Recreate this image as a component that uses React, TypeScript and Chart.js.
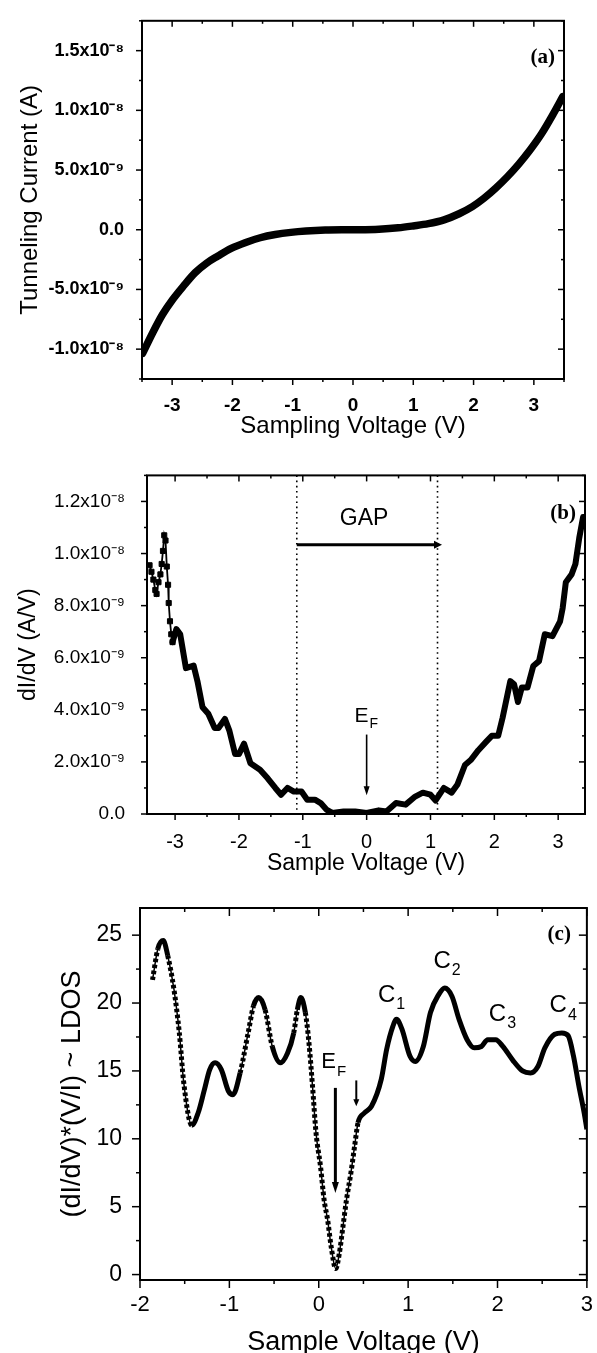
import React, { useEffect, useRef } from 'react';
import { Chart, registerables } from 'chart.js';

Chart.register(...registerables);

// ---------- Panel (a): I-V curve ----------
const aVoltage = [-3.49, -3.32, -3.16, -3.0, -2.81, -2.62, -2.43, -2.24, -2.02, -1.79, -1.54, -1.29, -1.03, -0.78, -0.46, 0, 0.43, 0.75, 1.0, 1.25, 1.51, 1.76, 1.98, 2.17, 2.37, 2.56, 2.75, 2.94, 3.13, 3.32, 3.48];
const aCurrent = [-1.035e-8, -8.6e-9, -7.1e-9, -5.9e-9, -4.7e-9, -3.6e-9, -2.8e-9, -2.2e-9, -1.56e-9, -1.08e-9, -6.7e-10, -4.0e-10, -2.2e-10, -1.1e-10, -3e-11, 0, 5e-11, 1.6e-10, 3.2e-10, 5.1e-10, 8.3e-10, 1.34e-9, 1.94e-9, 2.63e-9, 3.5e-9, 4.44e-9, 5.5e-9, 6.7e-9, 8.06e-9, 9.68e-9, 1.115e-8];
const aXTicks = [-3, -2, -1, 0, 1, 2, 3];
const aXTickLabels = ['-3', '-2', '-1', '0', '1', '2', '3'];
const aYTicks = [-1e-8, -5e-9, 0, 5e-9, 1e-8, 1.5e-8];
const aYTickLabels = ['-1.0x10⁻⁸', '-5.0x10⁻⁹', '0.0', '5.0x10⁻⁹', '1.0x10⁻⁸', '1.5x10⁻⁸'];

// ---------- Panel (b): dI/dV ----------
const bLeftVoltage = [-3.40, -3.37, -3.34, -3.31, -3.29, -3.26, -3.23, -3.21, -3.19, -3.17, -3.15, -3.13, -3.11, -3.10, -3.08, -3.06, -3.04];
const bLeftDidv = [9.55e-9, 9.3e-9, 9.0e-9, 8.6e-9, 8.45e-9, 8.9e-9, 9.2e-9, 9.6e-9, 10.1e-9, 10.7e-9, 10.5e-9, 9.5e-9, 8.8e-9, 8.1e-9, 7.4e-9, 6.9e-9, 6.6e-9];
const bVoltage = [-3.04, -2.98, -2.92, -2.83, -2.71, -2.65, -2.57, -2.48, -2.38, -2.32, -2.22, -2.15, -2.06, -2.0, -1.92, -1.82, -1.67, -1.55, -1.43, -1.34, -1.24, -1.14, -1.02, -0.93, -0.81, -0.72, -0.63, -0.54, -0.36, -0.18, 0, 0.19, 0.31, 0.46, 0.61, 0.76, 0.88, 1.0, 1.08, 1.21, 1.33, 1.42, 1.54, 1.63, 1.75, 1.87, 1.96, 2.06, 2.13, 2.25, 2.31, 2.37, 2.43, 2.52, 2.61, 2.70, 2.79, 2.91, 3.03, 3.07, 3.12, 3.21, 3.27, 3.33, 3.39];
const bDidv = [6.6e-9, 7.1e-9, 6.9e-9, 5.6e-9, 5.7e-9, 5.1e-9, 4.1e-9, 3.85e-9, 3.3e-9, 3.3e-9, 3.65e-9, 3.2e-9, 2.3e-9, 2.3e-9, 2.7e-9, 1.95e-9, 1.7e-9, 1.37e-9, 1.0e-9, 0.74e-9, 1.0e-9, 0.86e-9, 0.86e-9, 0.55e-9, 0.55e-9, 0.42e-9, 0.17e-9, 0.04e-9, 0.1e-9, 0.1e-9, 0.04e-9, 0.14e-9, 0.1e-9, 0.42e-9, 0.36e-9, 0.67e-9, 0.82e-9, 0.74e-9, 0.52e-9, 1.0e-9, 0.82e-9, 1.12e-9, 1.88e-9, 2.07e-9, 2.45e-9, 2.77e-9, 3.0e-9, 3.0e-9, 3.7e-9, 5.1e-9, 4.98e-9, 4.3e-9, 4.86e-9, 4.86e-9, 5.68e-9, 5.87e-9, 6.9e-9, 6.83e-9, 7.4e-9, 7.9e-9, 8.9e-9, 9.2e-9, 9.6e-9, 10.6e-9, 11.4e-9];
const bXTicks = [-3, -2, -1, 0, 1, 2, 3];
const bXTickLabels = ['-3', '-2', '-1', '0', '1', '2', '3'];
const bYTicks = [0, 2e-9, 4e-9, 6e-9, 8e-9, 1e-8, 1.2e-8];
const bYTickLabels = ['0.0', '2.0x10⁻⁹', '4.0x10⁻⁹', '6.0x10⁻⁹', '8.0x10⁻⁹', '1.0x10⁻⁸', '1.2x10⁻⁸'];
const bGapStart = -1.094;
const bGapEnd = 1.11;
const bGapArrowY = 1.034e-8;
const bGapArrowTip = 1.18;

// ---------- Panel (c): normalized conductance ----------
const cVoltage = [-1.86, -1.80, -1.74, -1.69, -1.62, -1.56, -1.51, -1.42, -1.35, -1.28, -1.22, -1.16, -1.09, -1.01, -0.96, -0.88, -0.79, -0.73, -0.67, -0.60, -0.52, -0.43, -0.35, -0.28, -0.24, -0.20, -0.15, -0.11, -0.07, -0.03, 0.02, 0.06, 0.10, 0.14, 0.19, 0.23, 0.27, 0.31, 0.36, 0.40, 0.44, 0.51, 0.59, 0.70, 0.76, 0.83, 0.87, 0.93, 1.02, 1.08, 1.17, 1.25, 1.34, 1.41, 1.49, 1.57, 1.66, 1.74, 1.82, 1.89, 1.98, 2.06, 2.17, 2.28, 2.37, 2.45, 2.53, 2.64, 2.72, 2.79, 2.85, 2.91, 2.97, 3.0];
const cLdos = [21.7, 24.0, 24.6, 23.5, 21.0, 17.8, 14.1, 11.0, 11.9, 13.6, 15.1, 15.6, 15.1, 13.5, 13.25, 14.85, 17.8, 19.8, 20.4, 19.5, 16.8, 15.6, 16.3, 17.8, 19.5, 20.4, 19.3, 17.1, 13.9, 10.4, 7.95, 5.5, 4.0, 2.0, 0.44, 1.55, 3.5, 5.5, 7.5, 9.4, 11.2, 11.9, 12.4, 14.4, 16.6, 18.3, 18.8, 18.1, 16.1, 15.7, 16.8, 19.3, 20.6, 21.1, 20.5, 18.8, 17.3, 16.7, 16.8, 17.3, 17.3, 16.8, 15.8, 15.0, 14.85, 15.3, 16.7, 17.7, 17.8, 17.6, 16.1, 13.9, 11.9, 10.7];
const cXTicks = [-2, -1, 0, 1, 2, 3];
const cXTickLabels = ['-2', '-1', '0', '1', '2', '3'];
const cYTicks = [0, 5, 10, 15, 20, 25];
const cYTickLabels = ['0', '5', '10', '15', '20', '25'];
const cPeakNames = ['1', '2', '3', '4'];
const cPeakLabelX = [0.76, 1.38, 2.0, 2.68];
const cPeakLabelY = [20.6, 23.1, 19.2, 19.8];
const cMarkerRegionEnd = 0.45;

const SANS = '"Liberation Sans", Arial, Helvetica, sans-serif';
const SERIF = '"Liberation Serif", "Times New Roman", serif';

function minorTicks(majors: number[], min: number, max: number): number[] {
  const step = (majors[1] - majors[0]) / 2;
  const out: number[] = [];
  const k0 = Math.ceil((min - majors[0]) / step - 1e-6);
  const k1 = Math.floor((max - majors[0]) / step + 1e-6);
  for (let k = k0; k <= k1; k++) {
    if (k % 2 !== 0) out.push(majors[0] + k * step);
  }
  return out;
}

function pts(xs: number[], ys: number[]) {
  return xs.map((x, i) => ({ x, y: ys[i] }));
}

interface AxisCfg {
  min: number; max: number; ticks: number[]; labels: string[];
  tickFont: any; tickPad: number; size: number;
  title: string; titleFont: any; titlePad: any;
}

function xAxis(c: AxisCfg) {
  return {
    type: 'linear', position: 'bottom', min: c.min, max: c.max,
    afterBuildTicks: (s: any) => { s.ticks = c.ticks.map((v) => ({ value: v })); },
    afterFit: (s: any) => { s.height = c.size; },
    grid: { display: false }, border: { display: false },
    ticks: { color: '#000', font: c.tickFont, padding: c.tickPad, maxRotation: 0, autoSkip: false,
      callback: (_v: any, i: number) => c.labels[i] },
    title: { display: true, text: c.title, color: '#000', font: c.titleFont, padding: c.titlePad },
  };
}
function yAxis(c: AxisCfg) {
  return {
    type: 'linear', position: 'left', min: c.min, max: c.max,
    afterBuildTicks: (s: any) => { s.ticks = c.ticks.map((v) => ({ value: v })); },
    afterFit: (s: any) => { s.width = c.size; },
    grid: { display: false }, border: { display: false },
    ticks: { color: '#000', font: c.tickFont, padding: c.tickPad, autoSkip: false,
      callback: (_v: any, i: number) => c.labels[i] },
    title: { display: true, text: c.title, color: '#000', font: c.titleFont, padding: c.titlePad },
  };
}

function framePlugin(o: { xMajor: number[]; yMajor: number[]; major: number; minor: number; frame: number }) {
  return {
    id: 'frameTicks',
    afterDraw(chart: any) {
      const { ctx, chartArea } = chart;
      const { left, right, top, bottom } = chartArea;
      const xs = chart.scales.x, ys = chart.scales.y;
      ctx.save();
      ctx.strokeStyle = '#000';
      ctx.lineWidth = o.frame;
      ctx.strokeRect(left, top, right - left, bottom - top);
      ctx.lineWidth = 1.5;
      const seg = (x1: number, y1: number, x2: number, y2: number) => {
        ctx.beginPath(); ctx.moveTo(x1, y1); ctx.lineTo(x2, y2); ctx.stroke();
      };
      const xMinor = minorTicks(o.xMajor, xs.min, xs.max);
      const yMinor = minorTicks(o.yMajor, ys.min, ys.max);
      o.xMajor.forEach((v) => { const p = xs.getPixelForValue(v); seg(p, bottom, p, bottom + o.major); seg(p, top, p, top + o.major); });
      xMinor.forEach((v) => { const p = xs.getPixelForValue(v); seg(p, bottom, p, bottom + o.minor); seg(p, top, p, top + o.minor); });
      o.yMajor.forEach((v) => { const p = ys.getPixelForValue(v); seg(left - o.major, p, left, p); seg(right - o.major, p, right, p); });
      yMinor.forEach((v) => { const p = ys.getPixelForValue(v); seg(left - o.minor, p, left, p); seg(right - o.minor, p, right, p); });
      ctx.restore();
    },
  };
}

function arrowDown(ctx: any, x: number, y1: number, y2: number, w: number, headL: number, headW: number) {
  ctx.lineWidth = w;
  ctx.beginPath(); ctx.moveTo(x, y1); ctx.lineTo(x, y2 - headL + 1); ctx.stroke();
  ctx.beginPath(); ctx.moveTo(x, y2); ctx.lineTo(x - headW, y2 - headL); ctx.lineTo(x + headW, y2 - headL); ctx.closePath(); ctx.fill();
}

function subText(ctx: any, main: string, sub: string, x: number, y: number, mainSize: number, subSize: number, subDy: number) {
  ctx.font = `${mainSize}px ${SANS}`;
  ctx.textAlign = 'center'; ctx.textBaseline = 'middle';
  ctx.fillText(main, x, y);
  const w = ctx.measureText(main).width;
  ctx.font = `${subSize}px ${SANS}`;
  ctx.textAlign = 'left';
  ctx.fillText(sub, x + w / 2 + 1, y + subDy);
}

function panelLabel(text: string, dx: number, dy: number) {
  return {
    id: 'panelLabel',
    afterDraw(chart: any) {
      const { ctx, chartArea } = chart;
      ctx.save();
      ctx.fillStyle = '#000';
      ctx.font = `bold 21px ${SERIF}`;
      ctx.textAlign = 'right'; ctx.textBaseline = 'middle';
      ctx.fillText(text, chartArea.right - dx, chartArea.top + dy);
      ctx.restore();
    },
  };
}

const baseOptions = (padding: any) => ({
  animation: false, responsive: false, events: [],
  layout: { padding },
  plugins: { legend: { display: false }, tooltip: { enabled: false } },
});

function configA() {
  return {
    type: 'scatter',
    data: { datasets: [{ data: pts(aVoltage, aCurrent), showLine: true, borderColor: '#000', borderWidth: 7.5, pointRadius: 0, cubicInterpolationMode: 'monotone', borderCapStyle: 'round', clip: 0 }] },
    options: {
      ...baseOptions({ left: 0, right: 33, top: 7, bottom: 0 }),
      scales: {
        x: xAxis({ min: -3.5, max: 3.5, ticks: aXTicks, labels: aXTickLabels, tickFont: { family: SANS, size: 19, weight: 'bold' }, tickPad: 7, size: 71, title: 'Sampling Voltage (V)', titleFont: { family: SANS, size: 24 }, titlePad: { top: 0, bottom: 9 } }),
        y: yAxis({ min: -1.25e-8, max: 1.75e-8, ticks: aYTicks, labels: aYTickLabels, tickFont: { family: SANS, size: 18, weight: 'bold' }, tickPad: 10, size: 142, title: 'Tunneling Current (A)', titleFont: { family: SANS, size: 24 }, titlePad: { top: 16, bottom: 0 } }),
      },
    },
    plugins: [framePlugin({ xMajor: aXTicks, yMajor: aYTicks, major: 6, minor: 3, frame: 2 }), panelLabel('(a)', 9, 37)],
  };
}

function configB() {
  const annot = {
    id: 'gapAnnot',
    afterDraw(chart: any) {
      const { ctx, chartArea } = chart;
      const xs = chart.scales.x, ys = chart.scales.y;
      ctx.save();
      ctx.strokeStyle = '#000'; ctx.fillStyle = '#000';
      ctx.lineWidth = 1.6; ctx.setLineDash([1.6, 3.6]);
      [bGapStart, bGapEnd].forEach((v) => {
        const p = xs.getPixelForValue(v);
        ctx.beginPath(); ctx.moveTo(p, chartArea.top); ctx.lineTo(p, chartArea.bottom); ctx.stroke();
      });
      ctx.setLineDash([]);
      const ay = ys.getPixelForValue(bGapArrowY);
      const x1 = xs.getPixelForValue(bGapStart), x2 = xs.getPixelForValue(bGapArrowTip);
      ctx.lineWidth = 3;
      ctx.beginPath(); ctx.moveTo(x1, ay); ctx.lineTo(x2 - 6, ay); ctx.stroke();
      ctx.beginPath(); ctx.moveTo(x2, ay); ctx.lineTo(x2 - 8, ay - 4); ctx.lineTo(x2 - 8, ay + 4); ctx.closePath(); ctx.fill();
      ctx.font = `23px ${SANS}`; ctx.textAlign = 'center'; ctx.textBaseline = 'middle';
      ctx.fillText('GAP', xs.getPixelForValue(-0.04), ys.getPixelForValue(1.133e-8));
      subText(ctx, 'E', 'F', xs.getPixelForValue(-0.08), ys.getPixelForValue(3.75e-9), 21, 14, 8);
      arrowDown(ctx, xs.getPixelForValue(0), ys.getPixelForValue(3.05e-9), ys.getPixelForValue(0.72e-9), 1.6, 9, 3);
      ctx.restore();
    },
  };
  return {
    type: 'scatter',
    data: {
      datasets: [
        { data: pts(bVoltage, bDidv), showLine: true, borderColor: '#000', borderWidth: 6, pointRadius: 0, tension: 0, borderJoinStyle: 'round', borderCapStyle: 'round', clip: 0 },
        { data: pts(bLeftVoltage, bLeftDidv), showLine: true, borderColor: '#000', backgroundColor: '#000', borderWidth: 1.8, pointRadius: 3.6, pointStyle: 'rect', pointBorderWidth: 1, tension: 0, clip: 0 },
      ],
    },
    options: {
      ...baseOptions({ left: 0, right: 12, top: 22, bottom: 0 }),
      scales: {
        x: xAxis({ min: -3.44, max: 3.42, ticks: bXTicks, labels: bXTickLabels, tickFont: { family: SANS, size: 20 }, tickPad: 8, size: 66, title: 'Sample Voltage (V)', titleFont: { family: SANS, size: 23 }, titlePad: { top: 0, bottom: 3 } }),
        y: yAxis({ min: 0, max: 1.3e-8, ticks: bYTicks, labels: bYTickLabels, tickFont: { family: SANS, size: 19 }, tickPad: 14, size: 147, title: 'dI/dV (A/V)', titleFont: { family: SANS, size: 23 }, titlePad: { top: 15, bottom: 0 } }),
      },
    },
    plugins: [framePlugin({ xMajor: bXTicks, yMajor: bYTicks, major: 6, minor: 3, frame: 2 }), annot, panelLabel('(b)', 9, 38)],
  };
}

function configC() {
  const dotted = (ctx: any) => {
    if (cVoltage[ctx.p1DataIndex] > cMarkerRegionEnd) return undefined;
    const dx = Math.abs(ctx.p1.x - ctx.p0.x) || 0.001;
    return Math.abs(ctx.p1.y - ctx.p0.y) / dx > 4 ? [3.5, 2.5] : undefined;
  };
  const annot = {
    id: 'ldosAnnot',
    afterDraw(chart: any) {
      const { ctx } = chart;
      const xs = chart.scales.x, ys = chart.scales.y;
      ctx.save();
      ctx.strokeStyle = '#000'; ctx.fillStyle = '#000';
      subText(ctx, 'E', 'F', xs.getPixelForValue(0.11), ys.getPixelForValue(15.67), 22, 15, 10);
      arrowDown(ctx, xs.getPixelForValue(0.186), ys.getPixelForValue(13.75), ys.getPixelForValue(6.0), 3, 11, 3.5);
      arrowDown(ctx, xs.getPixelForValue(0.42), ys.getPixelForValue(14.3), ys.getPixelForValue(12.4), 2, 7, 3);
      cPeakNames.forEach((n, i) => {
        subText(ctx, 'C', n, xs.getPixelForValue(cPeakLabelX[i]), ys.getPixelForValue(cPeakLabelY[i]), 24, 16, 10);
      });
      ctx.restore();
    },
  };
  return {
    type: 'scatter',
    data: {
      datasets: [
        { data: pts(cVoltage, cLdos), showLine: true, borderColor: '#000', borderWidth: 1.5, pointRadius: 0, cubicInterpolationMode: 'monotone', clip: 0 },
        { data: pts(cVoltage, cLdos), showLine: true, borderColor: '#000', borderWidth: 5, pointRadius: 0, cubicInterpolationMode: 'monotone', borderJoinStyle: 'round', clip: 0, segment: { borderDash: dotted } },
      ],
    },
    options: {
      ...baseOptions({ left: 0, right: 7, top: 28, bottom: 0 }),
      scales: {
        x: xAxis({ min: -2, max: 3, ticks: cXTicks, labels: cXTickLabels, tickFont: { family: SANS, size: 22 }, tickPad: 4, size: 73, title: 'Sample Voltage (V)', titleFont: { family: SANS, size: 27, lineHeight: 0.8 }, titlePad: { top: 0, bottom: 0 } }),
        y: yAxis({ min: -0.4, max: 27, ticks: cYTicks, labels: cYTickLabels, tickFont: { family: SANS, size: 23 }, tickPad: 10, size: 140, title: '(dI/dV)*(V/I) ~ LDOS', titleFont: { family: SANS, size: 27 }, titlePad: { top: 56, bottom: 0 } }),
      },
    },
    plugins: [framePlugin({ xMajor: cXTicks, yMajor: cYTicks, major: 8, minor: 4, frame: 2 }), annot, panelLabel('(c)', 16, 27)],
  };
}

function Panel({ top, height, build }: { top: number; height: number; build: () => any }) {
  const ref = useRef<HTMLCanvasElement | null>(null);
  useEffect(() => {
    if (!ref.current) return;
    const chart = new Chart(ref.current, build());
    return () => chart.destroy();
  }, []);
  return (
    <canvas ref={ref} width={597} height={height}
      style={{ position: 'absolute', left: 0, top, width: 597, height, display: 'block' }} />
  );
}

export default function App() {
  return (
    <div style={{ position: 'fixed', left: 0, top: 0, width: 597, height: 1353, overflow: 'hidden', background: '#fff' }}>
      <Panel top={0} height={450} build={configA} />
      <Panel top={450} height={430} build={configB} />
      <Panel top={880} height={473} build={configC} />
    </div>
  );
}
